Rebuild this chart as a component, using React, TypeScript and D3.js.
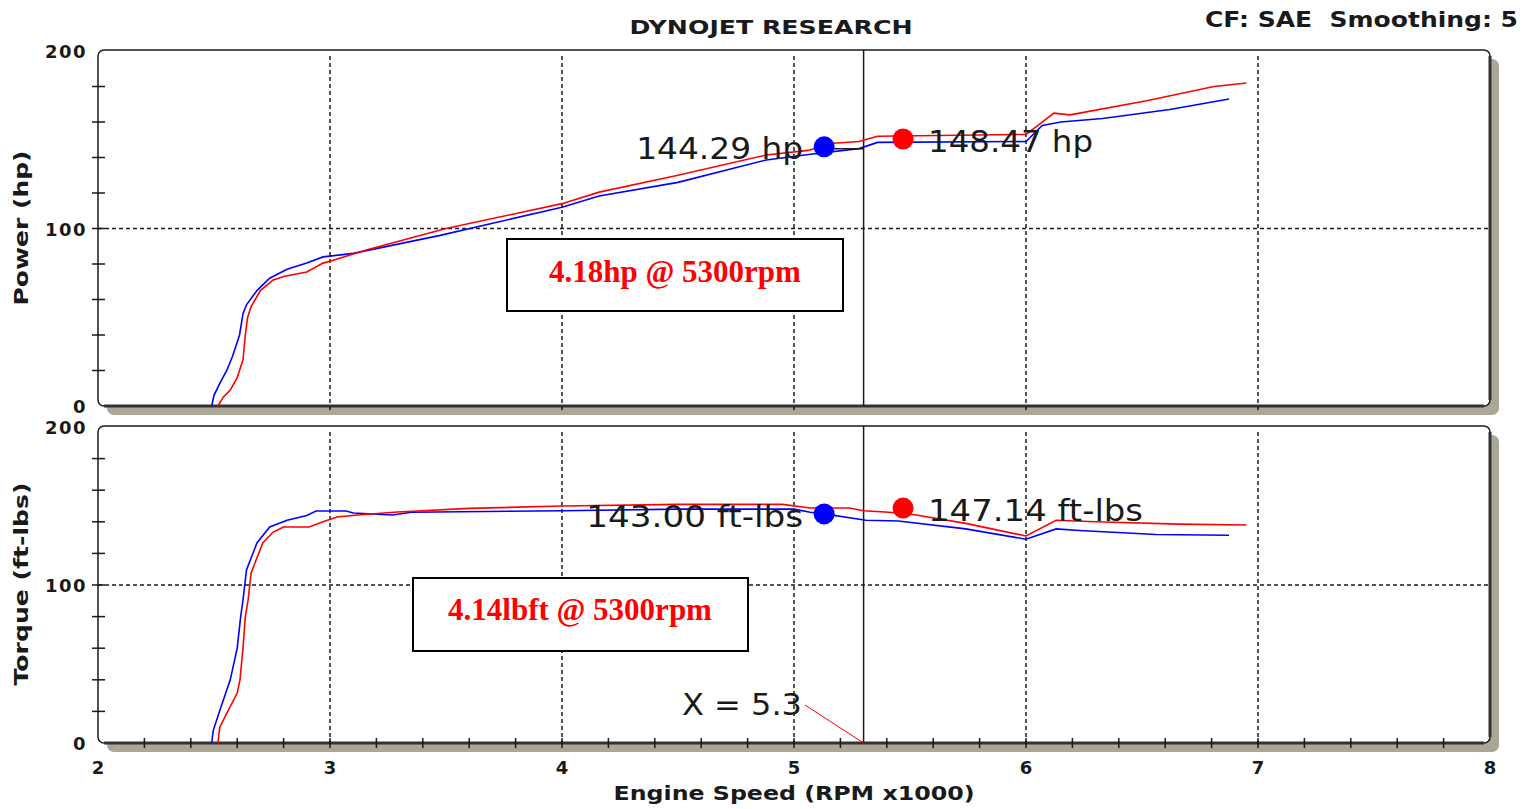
import React from 'react';
import * as d3 from 'd3';

// power run, red
const powerRedRpm = [2.517, 2.54, 2.57, 2.6, 2.625, 2.635, 2.645, 2.66, 2.7, 2.755, 2.8, 2.86, 2.9, 2.97, 3.01, 3.16, 3.5, 4.0, 4.16, 4.5, 4.88, 5.06, 5.17, 5.28, 5.36, 6.0, 6.06, 6.12, 6.19, 6.52, 6.81, 6.95];
const powerRedHp = [0, 5, 9, 16, 26, 40, 50, 56, 65, 71, 73, 74.5, 75.5, 80.5, 82, 88, 100, 114, 120.5, 130, 141.4, 144, 148, 149, 152, 153, 159, 165, 164, 172, 180, 182];

// power run, blue
const powerBlueRpm = [2.49, 2.5, 2.526, 2.555, 2.58, 2.61, 2.625, 2.64, 2.685, 2.74, 2.815, 2.9, 2.97, 3.1, 3.47, 4.0, 4.16, 4.5, 4.88, 5.08, 5.28, 5.36, 6.0, 6.07, 6.15, 6.33, 6.62, 6.875];
const powerBlueHp = [0, 6, 13, 20, 28, 40, 52, 57, 65, 72, 77, 80.5, 84, 86, 96, 112, 118.3, 126, 138.6, 142, 145, 148.5, 149, 158, 160, 162, 167, 173];

// torque run, red
const torqueRedRpm = [2.517, 2.525, 2.556, 2.6, 2.612, 2.625, 2.635, 2.647, 2.66, 2.71, 2.755, 2.8, 2.91, 2.97, 3.03, 3.12, 3.29, 3.6, 4.0, 4.5, 4.95, 5.07, 5.24, 5.3, 5.41, 5.52, 5.74, 6.0, 6.13, 6.3, 6.66, 6.95];
const torqueRedLb = [0, 10, 19, 31.6, 40, 60, 80, 90.5, 107.6, 126.6, 133.5, 136.7, 136.7, 140, 143, 144.3, 146.2, 148.5, 150, 151, 151, 148.7, 148.7, 147, 146, 144.5, 139, 131, 141, 140, 138.5, 138];

// torque run, blue
const torqueBlueRpm = [2.49, 2.497, 2.526, 2.57, 2.6, 2.615, 2.625, 2.64, 2.685, 2.74, 2.815, 2.9, 2.94, 3.07, 3.1, 3.27, 3.35, 4.0, 4.5, 5.0, 5.07, 5.13, 5.31, 5.45, 5.74, 6.0, 6.13, 6.23, 6.56, 6.875];
const torqueBlueLb = [0, 8, 21, 40, 60, 80, 90.5, 109.5, 126.6, 136.7, 141, 144, 146.8, 146.8, 145.6, 144.3, 146, 147, 148, 148, 146, 145, 141, 140.5, 135.5, 129, 135.5, 134.5, 132, 131.5];

// cursor markers (blue, red)
const markerRpm = [5.13, 5.47];
const markerHp = [146, 150.4];
const markerLb = [145, 148.7];
const markerHpLabels = ['144.29 hp', '148.47 hp'];
const markerLbLabels = ['143.00 ft-lbs', '147.14 ft-lbs'];
const cursorRpm = 5.3;

const xTicks = [2, 3, 4, 5, 6, 7, 8];
const yTickLabels = [0, 100, 200];

const W = 1538;
const H = 809;
const SHADOW = '#aba796';
const INK = '#1a1a1a';
const sans = '"DejaVu Sans", Verdana, sans-serif';
const serif = '"Liberation Serif", "Times New Roman", serif';

const x = d3.scaleLinear().domain([2, 8]).range([98, 1490]);
const yPow = d3.scaleLinear().domain([0, 200]).range([406, 51]);
const yTq = d3.scaleLinear().domain([0, 200]).range([743, 427]);

const zip = (a: number[], b: number[]) => a.map((v, i) => [v, b[i]] as [number, number]);

const Panel = ({ y, top, bottom, minorX }: { y: d3.ScaleLinear<number, number>; top: number; bottom: number; minorX: boolean }) => {
  const left = x(2);
  const right = x(8);
  const minorY = d3.range(20, 200, 20);
  const minorXs = d3.range(2.2, 7.9, 0.2);
  return (
    <g>
      <rect x={left + 9} y={top + 9} width={right - left} height={bottom - top} rx={7} fill={SHADOW} />
      <rect x={left} y={top} width={right - left} height={bottom - top} rx={6} fill="#fff" stroke={INK} strokeWidth={1.5} />
      <line x1={left + 6} x2={right - 6} y1={bottom} y2={bottom} stroke="#333" strokeWidth={3} />
      <line x1={right} x2={right} y1={top + 6} y2={bottom - 6} stroke="#333" strokeWidth={3} />
      {xTicks.slice(1, -1).map(t => (
        <line key={t} x1={x(t)} x2={x(t)} y1={top + 6} y2={bottom + 4} stroke={INK} strokeWidth={1.5} strokeDasharray="4,3" />
      ))}
      <line x1={left} x2={right} y1={y(100)} y2={y(100)} stroke={INK} strokeWidth={1.5} strokeDasharray="4,3" />
      {minorY.map(v => (
        <line key={v} x1={left - 6} x2={left + 7} y1={y(v)} y2={y(v)} stroke={INK} strokeWidth={1.5} />
      ))}
      {minorX && minorXs.map(v => (
        <line key={v} x1={x(v)} x2={x(v)} y1={bottom - 5} y2={bottom + 5} stroke={INK} strokeWidth={1.5} />
      ))}
      <line x1={x(cursorRpm)} x2={x(cursorRpm)} y1={top} y2={bottom} stroke={INK} strokeWidth={1.5} />
      {yTickLabels.map(v => (
        <text key={v} x={87} y={y(v) + 2} textAnchor="end" dominantBaseline="middle" fontFamily={sans} fontWeight="bold" fontSize={18} letterSpacing={1.5} fill={INK}>
          {v}
        </text>
      ))}
    </g>
  );
};

export default function App() {
  const line = (s: d3.ScaleLinear<number, number>) =>
    d3.line<[number, number]>().x(d => x(d[0])).y(d => s(d[1]));
  const pLine = line(yPow);
  const tLine = line(yTq);
  const dotColors = ['#0000ff', '#ff0000'];

  return (
    <svg width={W} height={H} style={{ position: 'absolute', left: 0, top: 0, background: '#fff' }}>
      <text x={771} y={34} textAnchor="middle" fontFamily={sans} fontWeight="bold" fontSize={20} textLength={283} lengthAdjust="spacingAndGlyphs" fill={INK}>
        DYNOJET RESEARCH
      </text>
      <text x={1518} y={27} textAnchor="end" fontFamily={sans} fontWeight="bold" fontSize={21} textLength={313} lengthAdjust="spacingAndGlyphs" fill={INK} style={{ whiteSpace: 'pre' }}>
        {'CF: SAE  Smoothing: 5'}
      </text>

      <Panel y={yPow} top={50} bottom={406} minorX={false} />
      <Panel y={yTq} top={426} bottom={743} minorX={true} />

      {/* y titles */}
      <text transform="translate(28,228) rotate(-90)" textAnchor="middle" fontFamily={sans} fontWeight="bold" fontSize={19} textLength={155} lengthAdjust="spacingAndGlyphs" fill={INK}>
        Power (hp)
      </text>
      <text transform="translate(28,584) rotate(-90)" textAnchor="middle" fontFamily={sans} fontWeight="bold" fontSize={19} textLength={203} lengthAdjust="spacingAndGlyphs" fill={INK}>
        Torque (ft-lbs)
      </text>

      {/* x labels */}
      {xTicks.map(t => (
        <text key={t} x={x(t)} y={774} textAnchor="middle" fontFamily={sans} fontWeight="bold" fontSize={18} fill={INK}>
          {t}
        </text>
      ))}
      <text x={794} y={800} textAnchor="middle" fontFamily={sans} fontWeight="bold" fontSize={20} textLength={361} lengthAdjust="spacingAndGlyphs" fill={INK}>
        Engine Speed (RPM x1000)
      </text>

      {/* curves */}
      <path d={pLine(zip(powerBlueRpm, powerBlueHp)) || ''} fill="none" stroke="#0000ff" strokeWidth={1.6} />
      <path d={pLine(zip(powerRedRpm, powerRedHp)) || ''} fill="none" stroke="#ff0000" strokeWidth={1.6} />
      <path d={tLine(zip(torqueBlueRpm, torqueBlueLb)) || ''} fill="none" stroke="#0000ff" strokeWidth={1.6} />
      <path d={tLine(zip(torqueRedRpm, torqueRedLb)) || ''} fill="none" stroke="#ff0000" strokeWidth={1.6} />

      {/* leader from blue dot to cursor */}
      <line x1={x(markerRpm[0])} x2={x(cursorRpm)} y1={yPow(markerHp[0]) + 2} y2={yPow(markerHp[0]) + 2} stroke={INK} strokeWidth={1.5} />

      {/* marker dots and values */}
      {markerRpm.map((r, i) => (
        <g key={i}>
          <circle cx={x(r)} cy={yPow(markerHp[i])} r={10.5} fill={dotColors[i]} />
          <circle cx={x(r)} cy={yTq(markerLb[i])} r={10.5} fill={dotColors[i]} />
          <text
            x={i === 0 ? x(r) - 21 : x(r) + 25}
            y={yPow(markerHp[i]) + (i === 0 ? 12 : 13)}
            textAnchor={i === 0 ? 'end' : 'start'}
            fontFamily={sans}
            fontSize={31}
            textLength={i === 0 ? 167 : 165}
            lengthAdjust="spacingAndGlyphs"
            fill={INK}
          >
            {markerHpLabels[i]}
          </text>
          <text
            x={i === 0 ? x(r) - 21 : x(r) + 25}
            y={yTq(markerLb[i]) + 13}
            textAnchor={i === 0 ? 'end' : 'start'}
            fontFamily={sans}
            fontSize={31}
            textLength={i === 0 ? 217 : 215}
            lengthAdjust="spacingAndGlyphs"
            fill={INK}
          >
            {markerLbLabels[i]}
          </text>
        </g>
      ))}

      {/* annotation boxes */}
      <rect x={507} y={239} width={336} height={72} fill="#fff" stroke="#000" strokeWidth={2} />
      <text x={675} y={282} textAnchor="middle" fontFamily={serif} fontWeight="bold" fontSize={31} fill="#ff0000">
        4.18hp @ 5300rpm
      </text>
      <rect x={413} y={578} width={335} height={73} fill="#fff" stroke="#000" strokeWidth={2} />
      <text x={580} y={620} textAnchor="middle" fontFamily={serif} fontWeight="bold" fontSize={31} fill="#ff0000">
        4.14lbft @ 5300rpm
      </text>

      {/* cursor readout */}
      <text x={802} y={715} textAnchor="end" fontFamily={sans} fontSize={31} textLength={120} lengthAdjust="spacingAndGlyphs" fill={INK}>
        X = 5.3
      </text>
      <line x1={805} y1={705} x2={x(cursorRpm)} y2={yTq(0)} stroke="#ff0000" strokeWidth={1} />
    </svg>
  );
}
